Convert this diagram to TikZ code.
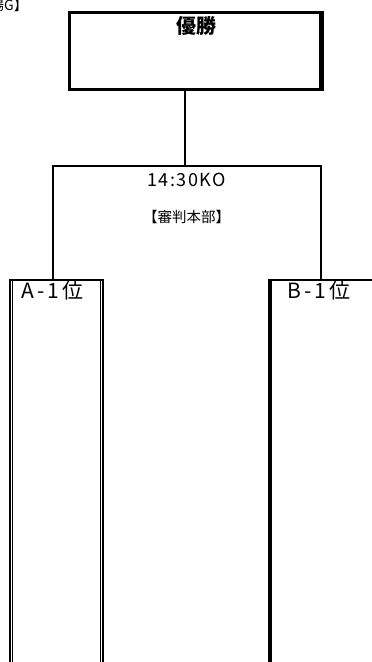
\documentclass[tikz,border=0pt]{standalone}
\usepackage{fontspec}
\setmainfont{Noto Sans CJK JP}
\usepackage{tikz}
\usetikzlibrary{positioning, calc}
\tikzstyle{finalbox} = [rectangle, draw, line width=3pt, minimum width=253pt, minimum height=77pt, inner sep=0pt]
\tikzstyle{teambox} = [rectangle, draw, line width=2.5pt, minimum height=420pt, inner sep=0pt]
\tikzstyle{innerline} = [line width=1.2pt]
\tikzstyle{link} = [line width=2pt]
\tikzstyle{label} = [inner sep=0pt, text=black]

\begin{document}
\begin{tikzpicture}[x=1pt, y=-1pt]
    \useasboundingbox (0,0) rectangle (372,662);
    \clip (0,0) rectangle (372,662);

    % Venue heading (cut off at the left)
    \node (venue) [label, anchor=east, font=\fontsize{14pt}{14pt}\selectfont] at (28,5) {【会場G】};

    % Final
    \node (final) [finalbox] at (196,51) {};
    \node (finaltxt) [label, font=\fontsize{20pt}{20pt}\bfseries\selectfont] at (196,26) {優勝};
    \draw [innerline] ([xshift=-4pt,yshift=-2pt]final.north east) -- ([xshift=-4pt,yshift=2pt]final.south east);

    % Teams
    \node (teamA) [teambox, minimum width=93pt] at (56.5,490) {};
    \node (teamB) [teambox, minimum width=107pt] at (323,490) {};
    \draw [innerline] ([xshift=3.6pt]teamA.north west) -- ([xshift=3.6pt]teamA.south west);
    \draw [innerline] ([xshift=-3.6pt]teamA.north east) -- ([xshift=-3.6pt]teamA.south east);
    \draw [innerline] ([xshift=3.6pt]teamB.north west) -- ([xshift=3.6pt]teamB.south west);
    \node (teamAtxt) [label, font=\fontsize{21pt}{21pt}\selectfont\addfontfeature{LetterSpace=16}] at (52.5,291) {A-1位};
    \node (teamBtxt) [label, font=\fontsize{21pt}{21pt}\selectfont\addfontfeature{LetterSpace=16}] at (319,291) {B-1位};

    % Match info
    \coordinate (split) at (185,166);
    \node (kickoff) [label, font=\fontsize{18pt}{18pt}\selectfont\addfontfeature{LetterSpace=8}] at (186.5,180) {14:30KO};
    \node (referee) [label, font=\fontsize{14.5pt}{14.5pt}\selectfont, below=37pt of kickoff.center, anchor=center] {【審判本部】};

    % Bracket lines
    \draw [link] (split |- final.south) -- (split);
    \draw [link] ([xshift=-3.5pt]teamA.north) |- (split) -| ([xshift=-2pt]teamB.north);
\end{tikzpicture}
\end{document}
